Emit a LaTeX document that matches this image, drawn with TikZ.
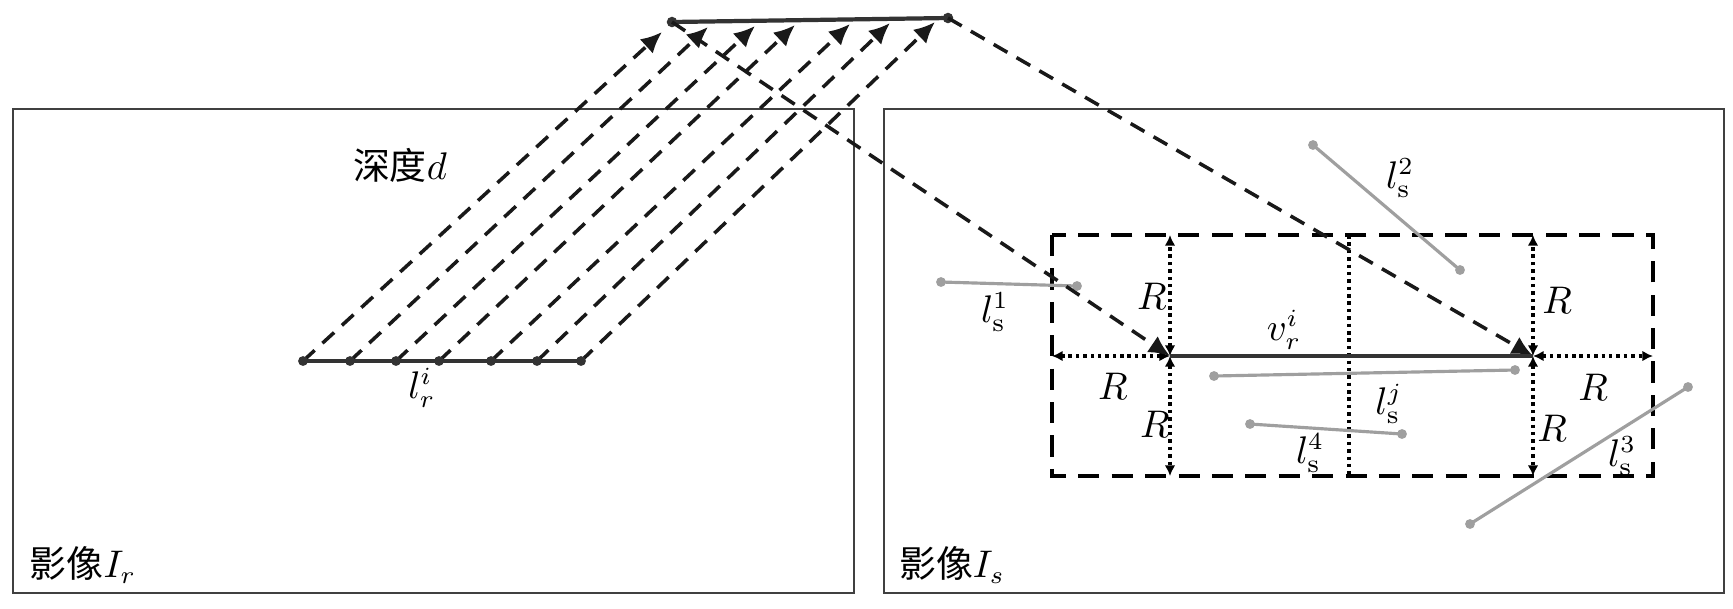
\documentclass[tikz,border=0pt]{standalone}
\usepackage{fontspec}
\usetikzlibrary{arrows.meta}
\newfontfamily\cjk{Noto Sans CJK SC}
\tikzset{
    lbl/.style={font=\fontsize{10.5}{12}\selectfont, inner sep=0pt},
    imgbox/.style={draw=black!75, line width=0.7pt},
    proj/.style={black!90, dash pattern=on 4.5pt off 3pt, line width=1pt, -{Latex[length=6pt,width=5.5pt]}},
    rarrow/.style={dash pattern=on 1pt off 1.1pt, line width=1pt, {Latex[length=3pt,width=3pt]}-{Latex[length=3pt,width=3pt]}},
    searchbox/.style={dash pattern=on 6pt off 3.5pt, line width=1.4pt},
    segline/.style={gray!75, line width=0.9pt},
}
\begin{document}
\begin{tikzpicture}[x=0.01cm, y=-0.01cm]
    \useasboundingbox (0,0) rectangle (1733,608);

    % --- 1. The two images ---
    \draw[imgbox] (13,109) rectangle (854,593);
    \draw[imgbox] (884,109) rectangle (1724,593);
    \node[lbl] (imgr) at (83,565) {\cjk 影像$I_r$};
    \node[lbl] (imgs) at (952,565) {\cjk 影像$I_s$};

    % --- 2. Search window in I_s ---
    \coordinate (s1) at (1052,235);
    \coordinate (s2) at (1653,476);
    \coordinate (mid) at (1349,356);
    \coordinate (va) at (1170,356);
    \coordinate (vb) at (1533,356);
    \draw[searchbox] (s1) rectangle (s2);
    \draw[dash pattern=on 1pt off 1.1pt, line width=1pt] (mid |- s1) -- (mid |- s2);
    % radius R around both end points
    \draw[rarrow] (va) -- (va |- s1);
    \draw[rarrow] (va) -- (va |- s2);
    \draw[rarrow] (va) -- (va -| s1);
    \draw[rarrow] (vb) -- (vb |- s1);
    \draw[rarrow] (vb) -- (vb |- s2);
    \draw[rarrow] (vb) -- (vb -| s2);
    \node[lbl] (ra) at (1152,296) {$R$};
    \node[lbl] (rb) at (1155,424) {$R$};
    \node[lbl] (rc) at (1113,386) {$R$};
    \node[lbl] (rd) at (1557,300) {$R$};
    \node[lbl] (re) at (1552,428) {$R$};
    \node[lbl] (rf) at (1593,387) {$R$};

    % --- 3. Candidate segments ---
    \foreach \name/\ax/\ay/\bx/\by in {1/941/282/1077/286, 2/1313/145/1460/270,
            3/1688/387/1470/524, j/1214/376/1515/370, 4/1250/424/1402/434} {
        \coordinate (c\name a) at (\ax,\ay);
        \coordinate (c\name b) at (\bx,\by);
        \draw[segline] (c\name a) -- (c\name b);
        \fill[gray!75] (c\name a) circle (1.4pt) (c\name b) circle (1.4pt);
    }
    \node[lbl] (ls1) at (995,312) {$l_{\mathrm{s}}^{1}$};
    \node[lbl] (ls2) at (1400,178) {$l_{\mathrm{s}}^{2}$};
    \node[lbl] (ls3) at (1622,456) {$l_{\mathrm{s}}^{3}$};
    \node[lbl] (lsj) at (1389,404) {$l_{\mathrm{s}}^{j}$};
    \node[lbl] (ls4) at (1310,453) {$l_{\mathrm{s}}^{4}$};

    % --- 4. Reference segment and its depth samples ---
    \coordinate (ta) at (672,22);
    \coordinate (tb) at (948,18);
    \foreach \bx/\tx/\ty [count=\i] in {303/662/32, 350/708/27, 396/755/26,
            439/795/25, 491/850/24, 537/890/23, 581/935/22} {
        \coordinate (b\i) at (\bx,361);
        \coordinate (t\i) at (\tx,\ty);
        \draw[proj] (b\i) -- (t\i);
    }
    \draw[black!80, line width=1.2pt] (b1) -- (b7);
    \draw[black!80, line width=1.2pt] (ta) -- (tb);
    \foreach \i in {1,...,7} {
        \fill[black!80] (b\i) circle (1.4pt);
    }
    \fill[black!80] (ta) circle (1.5pt) (tb) circle (1.5pt);
    \node[lbl] (lri) at (422,388) {$l_r^i$};
    \node[lbl] (depth) at (400,165) {\cjk 深度$d$};

    % --- 5. Projection into I_s ---
    \draw[proj] (ta) -- (va);
    \draw[proj] (tb) -- (vb);
    \draw[black!80, line width=1.1pt] (va) -- (vb);
    \node[lbl] (vri) at (1284,330) {$v_r^i$};
\end{tikzpicture}
\end{document}
